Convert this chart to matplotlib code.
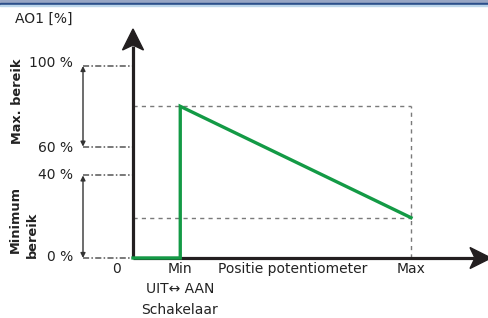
import matplotlib
matplotlib.use("Agg")
import matplotlib.pyplot as plt
from matplotlib.patches import FancyArrowPatch, Rectangle, Polygon

# ---- data (schematic units: x = potentiometer position 0..100, y = output scale) ----
green_x = [0, 17, 17, 100]
green_y = [0, 0, 79, 21]
ytick_pos = [100, 58, 43, 0]
ytick_labels = ["100 %", "60 %", "40 %", "0 %"]
xtick_pos = [-6, 17, 100]
xtick_labels = ["0", "Min", "Max"]
max_range = (58, 100)
min_range = (0, 43)

GREEN = "#139a45"
GRAY = "#7a7a7a"
BLACK = "#231f20"
TXT = "#222222"

W, H = 489, 318
fig = plt.figure(figsize=(W / 100, H / 100), dpi=100)
ax = fig.add_axes([0, 0, 1, 1])
# map data to pixel layout: x0 -> px133, x100 -> px411 ; y0 -> px258, y100 -> px66
sx = 2.78
sy = 1.92
ax.set_xlim(-133 / sx, (W - 133) / sx)
ax.set_ylim(-(H - 258) / sy, 258 / sy)
ax.axis("off")

def px2x(p):
    return (p - 133) / sx

def py2y(p):
    return (258 - p) / sy

# top blue band
fig.patches.append(Rectangle((0, 1 - 3 / H), 1, 3 / H, transform=fig.transFigure,
                             color="#98a6c4", zorder=10))
fig.patches.append(Rectangle((0, 1 - 4.5 / H), 1, 1.5 / H, transform=fig.transFigure,
                             color="#2c4f8a", zorder=10))
fig.patches.append(Rectangle((0, 1 - 5.5 / H), 1, 1 / H, transform=fig.transFigure,
                             color="#bcd6ea", zorder=10))

# dashed guide lines
top_y = green_y[2]
end_y = green_y[3]
ax.plot([0, 100], [top_y, top_y], ls=(0, (3, 3)), color=GRAY, lw=1)
ax.plot([0, 100], [end_y, end_y], ls=(0, (3, 3)), color=GRAY, lw=1)
ax.plot([100, 100], [0, top_y], ls=(0, (3, 3)), color=GRAY, lw=1)

# axes with arrowheads
ax.plot([0, 0], [0, py2y(46)], color=BLACK, lw=2.3, solid_capstyle="butt", zorder=3)
ax.plot([0, px2x(474)], [0, 0], color=BLACK, lw=2.3, solid_capstyle="butt", zorder=3)
ax.add_patch(Polygon([(px2x(133), py2y(29)), (px2x(143.5), py2y(50)), (px2x(133), py2y(45)),
                      (px2x(122.5), py2y(50))], closed=True, color=BLACK, zorder=4))
ax.add_patch(Polygon([(px2x(491), py2y(258)), (px2x(470), py2y(268.5)), (px2x(475), py2y(258)),
                      (px2x(470), py2y(247.5))], closed=True, color=BLACK, zorder=4))

# green characteristic
ax.plot(green_x, green_y, color=GREEN, lw=2.4, solid_joinstyle="miter", zorder=5)

# left range annotations
xl = px2x(83)
for yv in list(max_range) + list(min_range):
    ax.plot([xl, 0], [yv, yv], ls=(0, (4, 1.5, 1, 1.5)), color="#555555", lw=1.1, zorder=2)
for lo, hi in (max_range, min_range):
    ax.add_patch(FancyArrowPatch((xl, lo), (xl, hi), arrowstyle="<|-|>", mutation_scale=7,
                                 color="#333333", lw=1, shrinkA=0, shrinkB=0))

fs = 10
label_px = [63, 148, 175, 257]
for lp, lab in zip(label_px, ytick_labels):
    ax.text(px2x(73), py2y(lp), lab, ha="right", va="center", fontsize=fs, color=TXT)

ax.text(px2x(15), py2y(19), "AO1 [%]", ha="left", va="center", fontsize=fs, color=TXT)
ax.text(px2x(17), py2y(101), "Max. bereik", rotation=90, ha="center",
        va="center", fontsize=9.3, fontweight="bold", color=TXT)
ax.text(px2x(15), py2y(253), "Minimum", rotation=90, ha="center", va="bottom",
        fontsize=9.3, fontweight="bold", color=TXT)
ax.text(px2x(32), py2y(258), "bereik", rotation=90, ha="center", va="bottom",
        fontsize=9.3, fontweight="bold", color=TXT)

for xp, lab in zip(xtick_pos, xtick_labels):
    ax.text(xp, py2y(269), lab, ha="center", va="center", fontsize=fs, color=TXT)
ax.text(px2x(293), py2y(269), "Positie potentiometer", ha="center", va="center", fontsize=fs,
        color=TXT)
ax.text(px2x(180), py2y(289), "UIT\u2194 AAN", ha="center", va="center", fontsize=fs,
        color=TXT)
ax.text(px2x(180), py2y(310), "Schakelaar", ha="center", va="center", fontsize=fs,
        color=TXT)

fig.savefig("out.png", dpi=100)
